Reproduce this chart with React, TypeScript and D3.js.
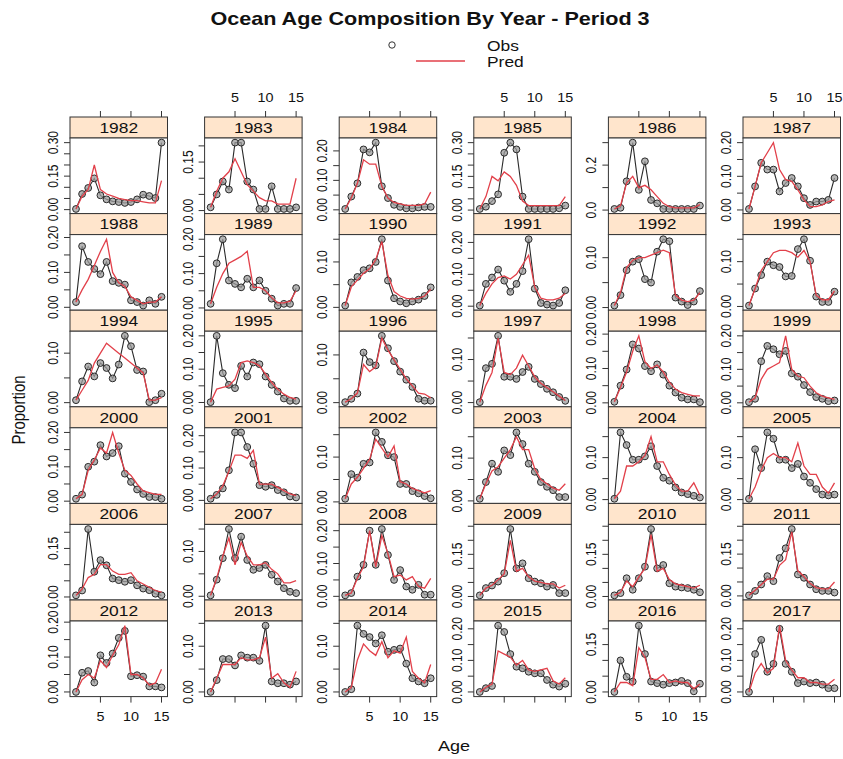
import React from 'react';
import * as d3 from 'd3';

const years = [1982,1983,1984,1985,1986,1987,1988,1989,1990,1991,1992,1993,1994,1995,1996,1997,1998,1999,2000,2001,2002,2003,2004,2005,2006,2007,2008,2009,2010,2011,2012,2013,2014,2015,2016,2017];
const ages = [1,2,3,4,5,6,7,8,9,10,11,12,13,14,15];
const xTicks = [5, 10, 15];

const obsByYear: number[][] = [
  [0.003,0.07,0.097,0.14,0.064,0.046,0.037,0.034,0.03,0.034,0.046,0.067,0.061,0.052,0.30],
  [0.01,0.05,0.09,0.065,0.21,0.21,0.09,0.065,0.005,0.005,0.075,0.005,0.005,0.005,0.01],
  [0.003,0.045,0.09,0.205,0.195,0.228,0.08,0.04,0.017,0.01,0.005,0.005,0.008,0.01,0.01],
  [0.005,0.015,0.04,0.07,0.255,0.30,0.27,0.06,0.005,0.005,0.005,0.005,0.005,0.008,0.02],
  [0.005,0.01,0.128,0.30,0.09,0.217,0.045,0.03,0.005,0.005,0.005,0.005,0.005,0.005,0.02],
  [0.003,0.07,0.14,0.12,0.12,0.055,0.08,0.095,0.07,0.035,0.015,0.025,0.025,0.03,0.095],
  [0.015,0.175,0.13,0.11,0.095,0.13,0.075,0.07,0.065,0.02,0.015,0.005,0.02,0.01,0.03],
  [0.012,0.13,0.20,0.08,0.07,0.06,0.085,0.06,0.08,0.05,0.027,0.007,0.012,0.012,0.058],
  [0.004,0.055,0.067,0.082,0.086,0.10,0.15,0.059,0.02,0.013,0.009,0.013,0.017,0.025,0.044],
  [0.002,0.07,0.09,0.115,0.08,0.045,0.07,0.11,0.21,0.055,0.01,0.005,0.002,0.01,0.05],
  [0.004,0.025,0.075,0.092,0.097,0.057,0.05,0.112,0.137,0.133,0.02,0.012,0.005,0.012,0.033],
  [0.002,0.04,0.07,0.10,0.092,0.088,0.067,0.068,0.128,0.15,0.102,0.022,0.01,0.01,0.033],
  [0.005,0.043,0.073,0.053,0.08,0.07,0.049,0.077,0.135,0.114,0.066,0.063,0.001,0.005,0.018],
  [0.001,0.20,0.088,0.053,0.043,0.11,0.078,0.12,0.115,0.078,0.053,0.033,0.012,0.005,0.005],
  [0.001,0.008,0.019,0.105,0.085,0.078,0.14,0.114,0.087,0.065,0.048,0.033,0.008,0.004,0.004],
  [0.001,0.08,0.09,0.155,0.06,0.06,0.055,0.071,0.083,0.055,0.043,0.032,0.024,0.013,0.004],
  [0.003,0.05,0.097,0.17,0.158,0.107,0.092,0.112,0.082,0.05,0.03,0.015,0.01,0.01,0.002],
  [0.002,0.012,0.124,0.17,0.16,0.145,0.155,0.088,0.078,0.053,0.032,0.017,0.012,0.005,0.007],
  [0.007,0.019,0.10,0.115,0.163,0.13,0.14,0.16,0.08,0.056,0.034,0.021,0.012,0.012,0.007],
  [0.005,0.017,0.037,0.093,0.21,0.21,0.165,0.113,0.047,0.042,0.047,0.032,0.025,0.012,0.009],
  [0.007,0.062,0.054,0.085,0.088,0.155,0.134,0.104,0.10,0.04,0.04,0.024,0.019,0.013,0.008],
  [0.005,0.044,0.087,0.068,0.118,0.107,0.16,0.133,0.087,0.068,0.044,0.033,0.025,0.009,0.009],
  [0.002,0.16,0.13,0.095,0.095,0.103,0.127,0.08,0.052,0.045,0.029,0.017,0.013,0.009,0.005],
  [0.002,0.12,0.075,0.16,0.145,0.095,0.095,0.075,0.085,0.055,0.04,0.025,0.012,0.01,0.012],
  [0.005,0.02,0.21,0.078,0.114,0.098,0.057,0.052,0.047,0.052,0.036,0.026,0.021,0.01,0.005],
  [0.002,0.037,0.085,0.15,0.085,0.133,0.081,0.059,0.063,0.07,0.048,0.033,0.018,0.01,0.007],
  [0.003,0.01,0.06,0.096,0.20,0.096,0.205,0.126,0.05,0.08,0.03,0.02,0.035,0.005,0.005],
  [0.004,0.03,0.039,0.053,0.083,0.24,0.10,0.118,0.065,0.053,0.047,0.035,0.041,0.012,0.012],
  [0.004,0.012,0.065,0.024,0.065,0.106,0.24,0.10,0.112,0.047,0.035,0.032,0.03,0.024,0.015],
  [0.002,0.018,0.041,0.071,0.053,0.136,0.171,0.24,0.077,0.065,0.041,0.024,0.018,0.018,0.012],
  [0.0,0.055,0.06,0.027,0.105,0.083,0.11,0.155,0.175,0.045,0.048,0.044,0.016,0.016,0.013],
  [0.0,0.026,0.072,0.072,0.058,0.08,0.075,0.075,0.068,0.145,0.023,0.019,0.019,0.016,0.023],
  [0.0,0.006,0.145,0.127,0.12,0.106,0.124,0.088,0.092,0.095,0.062,0.03,0.023,0.019,0.03],
  [0.0,0.012,0.019,0.21,0.19,0.12,0.08,0.075,0.064,0.059,0.059,0.038,0.023,0.017,0.026],
  [0.0,0.10,0.048,0.033,0.21,0.12,0.033,0.028,0.023,0.028,0.03,0.035,0.028,0.002,0.026],
  [0.0,0.12,0.165,0.064,0.089,0.20,0.089,0.064,0.028,0.033,0.028,0.03,0.023,0.012,0.012],
];

const predByYear: number[][] = [
  [0.003,0.06,0.09,0.20,0.09,0.07,0.06,0.05,0.045,0.04,0.04,0.035,0.03,0.03,0.13],
  [0.01,0.06,0.10,0.12,0.16,0.12,0.08,0.06,0.04,0.03,0.03,0.02,0.02,0.02,0.10],
  [0.003,0.04,0.09,0.17,0.155,0.155,0.08,0.04,0.025,0.02,0.015,0.015,0.015,0.02,0.06],
  [0.005,0.06,0.15,0.13,0.17,0.15,0.11,0.04,0.02,0.02,0.02,0.02,0.02,0.02,0.06],
  [0.005,0.02,0.12,0.15,0.10,0.11,0.09,0.06,0.03,0.015,0.01,0.01,0.01,0.01,0.025],
  [0.003,0.07,0.14,0.17,0.20,0.12,0.09,0.085,0.06,0.03,0.01,0.01,0.015,0.025,0.03],
  [0.015,0.05,0.08,0.12,0.16,0.195,0.10,0.07,0.06,0.03,0.02,0.01,0.015,0.015,0.03],
  [0.012,0.06,0.10,0.13,0.14,0.15,0.165,0.06,0.06,0.05,0.03,0.015,0.015,0.02,0.05],
  [0.004,0.045,0.06,0.075,0.085,0.105,0.145,0.07,0.035,0.025,0.02,0.018,0.02,0.025,0.04],
  [0.002,0.04,0.07,0.09,0.095,0.085,0.10,0.13,0.16,0.06,0.025,0.02,0.02,0.025,0.04],
  [0.004,0.03,0.08,0.095,0.10,0.10,0.105,0.11,0.115,0.11,0.025,0.015,0.012,0.015,0.03],
  [0.002,0.04,0.08,0.10,0.12,0.125,0.125,0.12,0.11,0.125,0.10,0.025,0.015,0.015,0.035],
  [0.005,0.025,0.045,0.08,0.10,0.12,0.11,0.10,0.09,0.08,0.07,0.06,0.005,0.005,0.01],
  [0.001,0.04,0.045,0.05,0.07,0.12,0.125,0.12,0.11,0.085,0.06,0.04,0.025,0.015,0.01],
  [0.001,0.008,0.02,0.08,0.065,0.075,0.135,0.11,0.09,0.07,0.05,0.035,0.02,0.018,0.01],
  [0.001,0.04,0.07,0.15,0.07,0.065,0.08,0.11,0.085,0.06,0.045,0.035,0.025,0.015,0.005],
  [0.003,0.045,0.09,0.15,0.195,0.12,0.10,0.11,0.09,0.06,0.04,0.03,0.025,0.02,0.02],
  [0.002,0.015,0.07,0.10,0.11,0.12,0.20,0.10,0.08,0.075,0.05,0.03,0.02,0.015,0.01],
  [0.007,0.02,0.09,0.12,0.155,0.14,0.20,0.14,0.09,0.075,0.05,0.03,0.025,0.02,0.02],
  [0.005,0.02,0.045,0.09,0.14,0.14,0.13,0.155,0.05,0.05,0.05,0.04,0.03,0.02,0.015],
  [0.007,0.04,0.055,0.075,0.095,0.14,0.12,0.10,0.125,0.045,0.04,0.03,0.025,0.02,0.025],
  [0.005,0.04,0.07,0.08,0.10,0.12,0.15,0.12,0.12,0.075,0.05,0.04,0.03,0.025,0.04],
  [0.002,0.02,0.08,0.08,0.09,0.105,0.15,0.09,0.09,0.06,0.035,0.02,0.02,0.04,0.01],
  [0.002,0.03,0.07,0.10,0.11,0.10,0.10,0.09,0.135,0.08,0.06,0.06,0.03,0.015,0.04],
  [0.005,0.025,0.06,0.07,0.10,0.10,0.08,0.07,0.07,0.075,0.05,0.04,0.03,0.02,0.015],
  [0.002,0.04,0.09,0.13,0.07,0.12,0.09,0.07,0.07,0.075,0.06,0.05,0.03,0.03,0.035],
  [0.003,0.01,0.055,0.09,0.20,0.09,0.185,0.13,0.06,0.065,0.05,0.06,0.03,0.025,0.055],
  [0.004,0.03,0.04,0.06,0.08,0.20,0.09,0.10,0.07,0.055,0.05,0.045,0.045,0.03,0.04],
  [0.004,0.015,0.055,0.035,0.07,0.10,0.22,0.09,0.10,0.06,0.045,0.04,0.035,0.03,0.04],
  [0.002,0.02,0.04,0.06,0.06,0.11,0.13,0.23,0.09,0.07,0.045,0.03,0.025,0.025,0.05],
  [0.0,0.035,0.05,0.04,0.09,0.07,0.105,0.135,0.19,0.05,0.05,0.04,0.02,0.025,0.065],
  [0.0,0.03,0.06,0.06,0.06,0.075,0.07,0.07,0.075,0.12,0.03,0.04,0.02,0.01,0.045],
  [0.0,0.01,0.07,0.105,0.09,0.08,0.11,0.075,0.09,0.085,0.12,0.045,0.03,0.02,0.06],
  [0.0,0.015,0.025,0.13,0.12,0.11,0.085,0.10,0.07,0.065,0.07,0.075,0.035,0.025,0.045],
  [0.0,0.03,0.03,0.02,0.14,0.11,0.04,0.04,0.055,0.03,0.035,0.03,0.03,0.01,0.025],
  [0.0,0.06,0.09,0.06,0.075,0.21,0.10,0.07,0.045,0.045,0.03,0.03,0.025,0.025,0.04],
];

// y-axis tick spacing and labelled-tick spacing per panel
const yTickSteps = [0.05,0.05,0.05,0.05,0.1,0.05, 0.05,0.05,0.05,0.05,0.05,0.05, 0.05,0.05,0.05,0.05,0.05,0.05, 0.05,0.05,0.05,0.05,0.05,0.05, 0.05,0.05,0.05,0.05,0.05,0.05, 0.05,0.05,0.05,0.05,0.05,0.05];
const yLabelSteps = [0.15,0.15,0.1,0.15,0.2,0.1, 0.1,0.1,0.1,0.1,0.1,0.1, 0.1,0.1,0.1,0.1,0.1,0.1, 0.1,0.1,0.1,0.1,0.1,0.1, 0.15,0.1,0.1,0.15,0.15,0.15, 0.1,0.1,0.1,0.1,0.15,0.1];

const W = 843, H = 759;
const SX = 1.2;
const FONT = "'Liberation Sans', Arial, Helvetica, sans-serif";
const NCOL = 6;
const COL0 = 70, COLSTEP = 134.6, PW = 97.5;
const ROW0 = 117, ROWSTEP = 96.6, STRIPH = 21;
const TICK = 6;
const OBS_COL = '#2a2a2a';
const PRED_COL = '#e2404a';

function Txt(props: { x: number; y: number; size: number; anchor?: string; rot?: boolean; weight?: string | number; children: React.ReactNode }) {
  const { x, y, size, anchor = 'middle', rot = false, weight = 'normal', children } = props;
  const tr = `translate(${x},${y}) scale(${SX},1)` + (rot ? ' rotate(-90)' : '');
  return (
    <text transform={tr} fontSize={size} textAnchor={anchor as any} fontWeight={weight} fontFamily={FONT} fill="#111">
      {children}
    </text>
  );
}

function multiples(lo: number, hi: number, step: number): number[] {
  const a = Math.ceil(lo / step - 1e-9);
  const b = Math.floor(hi / step + 1e-9);
  return d3.range(a, b + 1).map((k) => +(k * step).toFixed(6));
}

function Panel({ i }: { i: number }) {
  const col = i % NCOL;
  const row = Math.floor(i / NCOL);
  const left = COL0 + col * COLSTEP;
  const top = ROW0 + row * ROWSTEP;
  const pTop = top + STRIPH;
  const pBot = top + ROWSTEP;
  const obs = obsByYear[i];
  const pred = predByYear[i];
  const all = obs.concat(pred);
  const lo = d3.min(all) as number;
  const hi = d3.max(all) as number;
  const pad = 0.07 * (hi - lo);
  const x = d3.scaleLinear().domain([1 - 0.07 * 14, 15 + 0.07 * 14]).range([left, left + PW]);
  const y = d3.scaleLinear().domain([lo - pad, hi + pad]).range([pBot, pTop]);
  const line = d3.line<number>().x((_, k) => x(ages[k])).y((v) => y(v));
  const tStep = yTickSteps[i];
  const lStep = yLabelSteps[i];
  const digits = tStep < 0.099 ? 2 : 1;
  const fmt = d3.format(`.${digits}f`);
  const ticks = multiples(lo - pad, hi + pad, tStep);
  const labels = multiples(lo - pad, hi + pad, lStep);
  return (
    <g>
      <rect x={left} y={top} width={PW} height={STRIPH} fill="#ffe5cc" stroke="#333" strokeWidth={1} />
      <Txt x={left + PW / 2} y={top + STRIPH / 2 + 5.2} size={14.5}>{years[i]}</Txt>
      <rect x={left} y={pTop} width={PW} height={pBot - pTop} fill="#fff" stroke="#333" strokeWidth={1} />
      {ticks.map((t) => (
        <line key={'t' + t} x1={left - TICK} x2={left} y1={y(t)} y2={y(t)} stroke="#333" strokeWidth={1} />
      ))}
      {labels.map((t) => (
        <Txt key={'l' + t} x={left - 12} y={y(t)} size={12} rot>{fmt(t)}</Txt>
      ))}
      <path d={line(obs) || ''} fill="none" stroke={OBS_COL} strokeWidth={1.1} />
      {obs.map((v, k) => (
        <circle key={k} cx={x(ages[k])} cy={y(v)} r={3.4} fill="#9c9c9c" fillOpacity={0.75} stroke={OBS_COL} strokeWidth={1} />
      ))}
      <path d={line(pred) || ''} fill="none" stroke={PRED_COL} strokeWidth={1.3} />
      {row === 0 && xTicks.map((t) => (
        <line key={'xt' + t} x1={x(t)} x2={x(t)} y1={top - TICK} y2={top} stroke="#333" strokeWidth={1} />
      ))}
      {row === 0 && col % 2 === 1 && xTicks.map((t) => (
        <Txt key={'xl' + t} x={x(t)} y={top - 15} size={12}>{t}</Txt>
      ))}
      {row === 5 && xTicks.map((t) => (
        <line key={'xb' + t} x1={x(t)} x2={x(t)} y1={pBot} y2={pBot + TICK} stroke="#333" strokeWidth={1} />
      ))}
      {row === 5 && col % 2 === 0 && xTicks.map((t) => (
        <Txt key={'xbl' + t} x={x(t)} y={pBot + 24} size={12}>{t}</Txt>
      ))}
    </g>
  );
}

export default function App() {
  return (
    <svg width={W} height={H} style={{ position: 'absolute', left: 0, top: 0, background: '#fff' }}>
      <rect x={0} y={0} width={W} height={H} fill="#fff" />
      <Txt x={430} y={25} size={18} weight="bold">Ocean Age Composition By Year - Period 3</Txt>
      <circle cx={392} cy={45} r={3.2} fill="none" stroke="#333" strokeWidth={1} />
      <line x1={416} x2={465} y1={61} y2={61} stroke={PRED_COL} strokeWidth={1.3} />
      <Txt x={487} y={51} size={14.5} anchor="start">Obs</Txt>
      <Txt x={487} y={67} size={14.5} anchor="start">Pred</Txt>
      {years.map((_, i) => <Panel key={i} i={i} />)}
      <Txt x={454} y={751} size={15}>Age</Txt>
      <Txt x={25} y={410} size={15} rot>Proportion</Txt>
    </svg>
  );
}
